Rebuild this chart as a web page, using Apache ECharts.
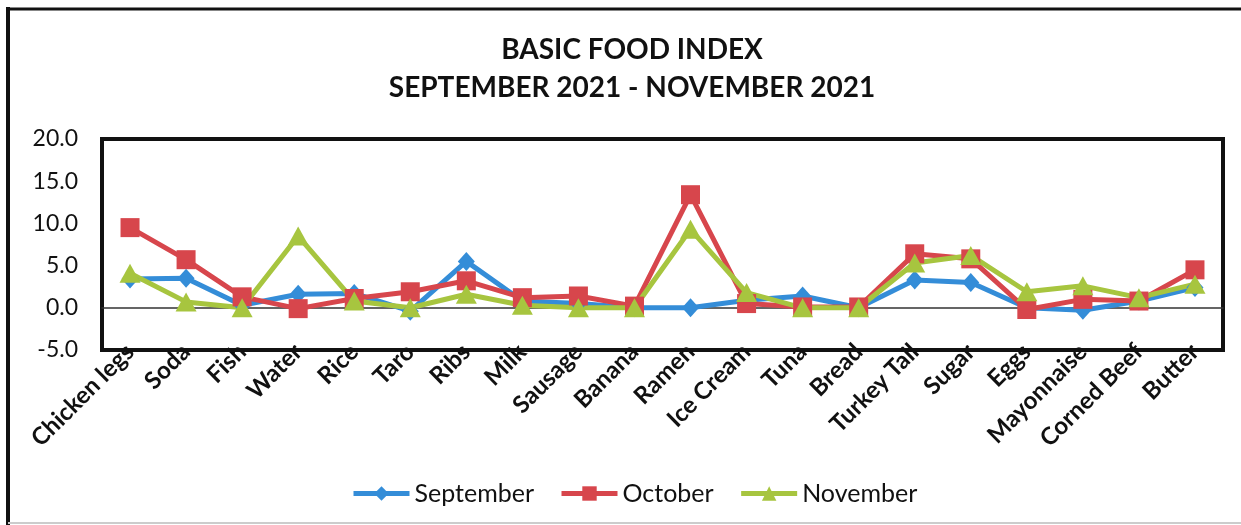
<!DOCTYPE html>
<html>
<head>
<meta charset="utf-8">
<script src="https://cdn.jsdelivr.net/npm/echarts@6/dist/echarts.min.js"></script>
<style>
html,body{margin:0;padding:0;background:#fff;}
#chart{width:1241px;height:525px;}
</style>
</head>
<body>
<div id="chart"></div>
<script>
const categories = ['Chicken legs','Soda','Fish','Water','Rice','Taro','Ribs','Milk','Sausage','Banana','Ramen','Ice Cream','Tuna','Bread','Turkey Tail','Sugar','Eggs','Mayonnaise','Corned Beef','Butter'];
const september = [3.4, 3.5, 0.3, 1.6, 1.7, -0.4, 5.5, 0.8, 0.5, 0.0, 0.0, 0.9, 1.4, 0.0, 3.3, 3.0, 0.0, -0.3, 0.8, 2.4];
const october   = [9.5, 5.7, 1.3, -0.1, 1.1, 1.9, 3.2, 1.2, 1.4, 0.2, 13.4, 0.5, 0.1, 0.1, 6.4, 5.8, -0.2, 1.0, 0.8, 4.5];
const november  = [4.1, 0.7, 0.0, 8.5, 0.8, 0.0, 1.6, 0.3, 0.0, 0.0, 9.3, 1.8, 0.0, 0.0, 5.3, 6.2, 1.9, 2.6, 1.2, 2.8];
const yTicks = { min: -5, max: 20, interval: 5 };
const seriesNames = ['September','October','November'];

const FONT = 'Lato, "Open Sans", sans-serif';
const chart = echarts.init(document.getElementById('chart'), null, {renderer:'canvas'});
const option = {
  backgroundColor: '#fff',
  animation: false,
  graphic: [
    { type:'line', shape:{x1:8,y1:7,x2:8,y2:525}, style:{stroke:'#111', lineWidth:4}, silent:true },
    { type:'line', shape:{x1:6,y1:9,x2:1241,y2:9}, style:{stroke:'#111', lineWidth:3}, silent:true },
    { type:'line', shape:{x1:8,y1:523,x2:1241,y2:523}, style:{stroke:'#ccc', lineWidth:2}, silent:true },
    { type:'text', x:632, y:50, style:{text:'BASIC FOOD INDEX', font:'bold 28px ' + FONT, fill:'#111', textAlign:'center', textVerticalAlign:'middle'} },
    { type:'text', x:632, y:88, style:{text:'SEPTEMBER 2021 - NOVEMBER 2021', font:'bold 28px ' + FONT, fill:'#111', textAlign:'center', textVerticalAlign:'middle'} }
  ],
  grid: { left:102, right:18, top:139, bottom:175, show:true, borderColor:'#111', borderWidth:4, backgroundColor:'transparent' },
  legend: {
    data: seriesNames,
    left: 346, top: 476,
    itemWidth: 56, itemHeight: 18, itemGap: 25,
    lineStyle: { width: 5 },
    textStyle: { fontFamily: FONT, fontSize: 25, color: '#111' }
  },
  xAxis: {
    type: 'category',
    data: categories,
    boundaryGap: true,
    axisLine: { show:true, onZero:true, lineStyle:{color:'#333', width:1.5} },
    axisTick: { show:false },
    axisLabel: { interval:0, rotate:45, margin:-2, fontFamily:FONT, fontWeight:'bold', fontSize:24, color:'#111' },
    splitLine: { show:false }
  },
  yAxis: {
    type: 'value',
    min: yTicks.min, max: yTicks.max, interval: yTicks.interval,
    axisLine: { show:false },
    axisTick: { show:false },
    splitLine: { show:false },
    axisLabel: { margin: 24, fontFamily: FONT, fontSize: 23, color: '#111', formatter: v => v.toFixed(1) }
  },
  series: [
    { name:'September', type:'line', data:september, symbol:'diamond', symbolSize:[17,19],
      lineStyle:{width:5, color:'#348DD8'}, itemStyle:{color:'#348DD8'} },
    { name:'October', type:'line', data:october, symbol:'rect', symbolSize:19,
      lineStyle:{width:5, color:'#D7464C'}, itemStyle:{color:'#D7464C'} },
    { name:'November', type:'line', data:november, symbol:'triangle', symbolSize:[21,19],
      lineStyle:{width:5, color:'#A7C53F'}, itemStyle:{color:'#A7C53F'} }
  ]
};
chart.setOption(option);
</script>
</body>
</html>
